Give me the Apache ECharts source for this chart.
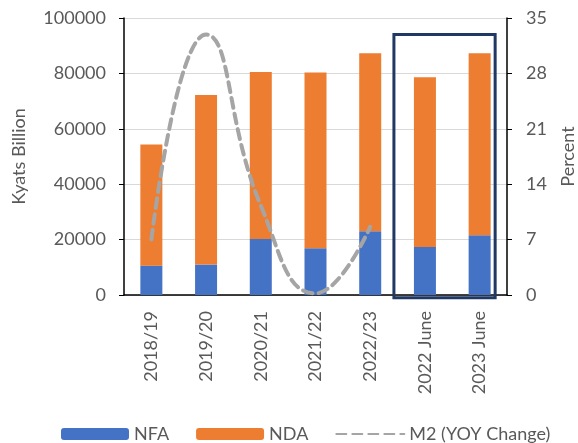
<!DOCTYPE html>
<html>
<head>
<meta charset="utf-8">
<script src="https://cdn.jsdelivr.net/npm/echarts@6/dist/echarts.min.js"></script>
<style>
  html, body { margin: 0; padding: 0; background: #fff; }
  #chart { width: 578px; height: 443px; }
</style>
</head>
<body>
<div id="chart"></div>
<script>
// Monetary survey: money supply components (Kyats billion) and M2 growth (%)
const categories = ['2018/19', '2019/20', '2020/21', '2021/22', '2022/23', '2022 June', '2023 June'];
const nfa = [10600, 11000, 20200, 16900, 23000, 17300, 21600];
const nda = [43700, 61200, 60300, 63400, 64300, 61300, 65700];
const m2Growth = [7.0, 32.9, 11.3, 0.2, 8.6, null, null];
const leftTicks = { min: 0, max: 100000, interval: 20000 };
const rightTicks = { min: 0, max: 35, interval: 7 };

const FONT = 'Lato, "Open Sans", sans-serif';
const TEXT = '#595959';

const chart = echarts.init(document.getElementById('chart'), null, { renderer: 'canvas' });

chart.setOption({
  animation: false,
  textStyle: { fontFamily: FONT },
  grid: { left: 124, right: 71, top: 18, bottom: 148, containLabel: false, outerBoundsMode: 'none' },
  legend: {
    left: 56,
    top: 420,
    itemWidth: 68,
    itemHeight: 12,
    itemGap: 27,
    textStyle: { fontSize: 18, color: TEXT, fontFamily: FONT },
    data: [
      'NFA',
      'NDA',
      { name: 'M2 (YOY Change)', itemStyle: { opacity: 0 } }
    ]
  },
  xAxis: {
    type: 'category',
    data: categories,
    axisLine: { lineStyle: { color: '#000', width: 1.5 } },
    axisTick: { show: false },
    axisLabel: { rotate: 90, margin: 16, fontSize: 18, color: TEXT, fontFamily: FONT }
  },
  yAxis: [
    {
      type: 'value',
      min: leftTicks.min, max: leftTicks.max, interval: leftTicks.interval,
      name: 'Kyats Billion',
      nameLocation: 'middle',
      nameGap: 96,
      nameTextStyle: { fontSize: 18, color: TEXT, fontFamily: FONT },
      axisLine: { show: true, lineStyle: { color: '#000', width: 1.5 } },
      axisTick: { show: true, length: 5, lineStyle: { color: '#000' } },
      axisLabel: { margin: 18, fontSize: 18, color: TEXT, fontFamily: FONT, formatter: v => String(v) },
      splitLine: { lineStyle: { color: '#D9D9D9', width: 1 } }
    },
    {
      type: 'value',
      min: rightTicks.min, max: rightTicks.max, interval: rightTicks.interval,
      name: 'Percent',
      nameLocation: 'middle',
      nameGap: 52,
      nameTextStyle: { fontSize: 18, color: TEXT, fontFamily: FONT },
      axisLine: { show: true, lineStyle: { color: '#000', width: 1.5 } },
      axisTick: { show: true, length: 5, lineStyle: { color: '#000' } },
      axisLabel: { margin: 19, fontSize: 18, color: TEXT, fontFamily: FONT, formatter: v => String(v) },
      splitLine: { show: false }
    }
  ],
  series: [
    {
      name: 'NFA', type: 'bar', stack: 'money', barWidth: 22,
      itemStyle: { color: '#4472C4' },
      data: nfa
    },
    {
      name: 'NDA', type: 'bar', stack: 'money', barWidth: 22,
      itemStyle: { color: '#ED7D31' },
      data: nda
    },
    {
      name: 'M2 (YOY Change)', type: 'line', yAxisIndex: 1,
      smooth: 0.5, symbol: 'none', z: 5,
      itemStyle: { color: '#A5A5A5' },
      lineStyle: { color: '#A5A5A5', width: 4, type: [10, 6], cap: 'round' },
      data: m2Growth
    }
  ]
});

// Outline around the two June observations, placed from the axis scales
const juneStart = chart.convertToPixel({ xAxisIndex: 0 }, '2022 June');
const juneEnd = chart.convertToPixel({ xAxisIndex: 0 }, '2023 June');
const boxTop = chart.convertToPixel({ yAxisIndex: 0 }, 94000);
const boxBottom = chart.convertToPixel({ yAxisIndex: 0 }, -1000);
const x0 = juneStart - 31;
const x1 = juneEnd + 15.5;
chart.setOption({
  graphic: [{
    type: 'rect',
    z: 100,
    shape: { x: x0, y: boxTop, width: x1 - x0, height: boxBottom - boxTop },
    style: { fill: 'none', stroke: '#1F3864', lineWidth: 3 }
  }]
});
</script>
</body>
</html>
